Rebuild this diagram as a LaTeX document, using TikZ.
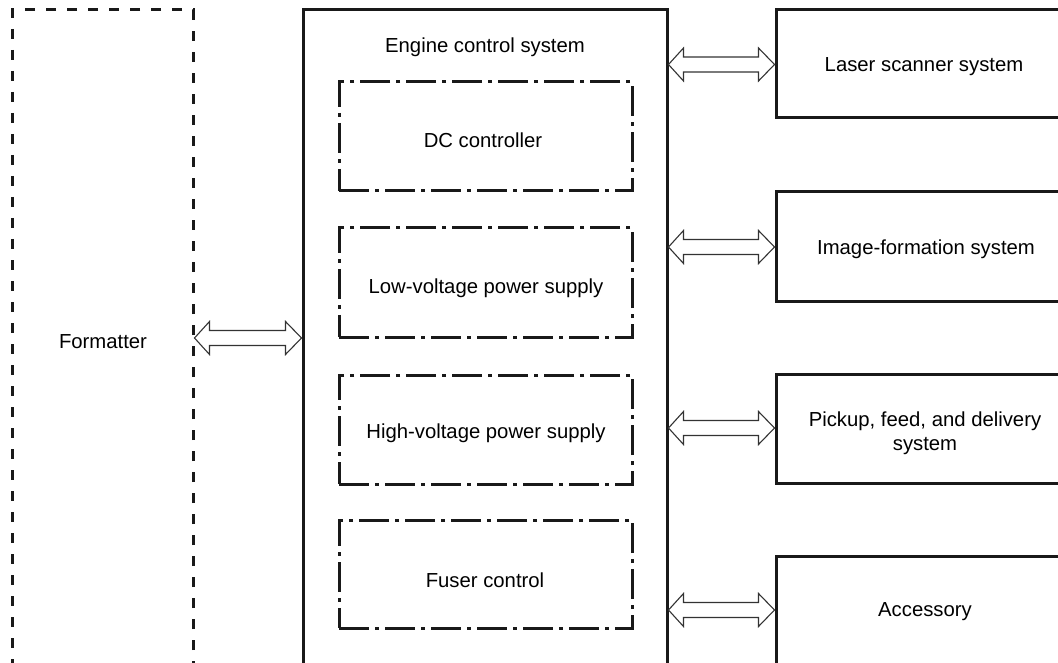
\documentclass[tikz,border=0pt]{standalone}
\usepackage{fontspec}
\setmainfont{Liberation Sans}
\usetikzlibrary{calc}
\tikzset{
  boxa/.style={draw=black!90, line width=3pt, rectangle, inner sep=0pt},
  fmtbox/.style={draw=black!90, line width=3pt, dash pattern=on 10pt off 11pt, rectangle, inner sep=0pt},
  subbox/.style={draw=black!90, line width=3pt, dash pattern=on 30pt off 6pt on 4pt off 6pt, rectangle, inner sep=0pt},
  lbl/.style={font=\fontsize{20.3}{23.5}\selectfont, align=center, inner sep=0pt},
  harrow/.style={draw=black!80, line width=1.1pt, fill=white, line join=miter}
}
\newcommand{\dblarrow}[2]{%
  \draw[harrow] (#1) -- ($(#1)+(15,16.5)$) -- ($(#1)+(15,7.5)$) -- ($(#2)+(-16,7.5)$) -- ($(#2)+(-16,16.5)$) -- (#2)
   -- ($(#2)+(-16,-16.5)$) -- ($(#2)+(-16,-7.5)$) -- ($(#1)+(15,-7.5)$) -- ($(#1)+(15,-16.5)$) -- cycle;}
\begin{document}
\begin{tikzpicture}[x=1pt,y=-1pt]
\clip (0,0) rectangle (1058,663);
\fill[white] (0,0) rectangle (1058,663);
% main boxes
\node[fmtbox, minimum width=181pt, minimum height=690pt] (fmt) at (102.5,355) {};
\node[boxa, minimum width=364pt, minimum height=690pt] (ecs) at (485,355) {};
% sub boxes
\node[subbox, minimum width=293pt, minimum height=109pt] (dc) at (485.5,136.5) {};
\node[subbox, minimum width=293pt, minimum height=109pt] (lv) at (485.5,282.5) {};
\node[subbox, minimum width=293pt, minimum height=109pt] (hv) at (485.5,429.5) {};
\node[subbox, minimum width=293pt, minimum height=108pt] (fu) at (485.5,574) {};
% right boxes
\node[boxa, minimum width=298pt, minimum height=108pt] (las) at (925,64) {};
\node[boxa, minimum width=298pt, minimum height=109pt] (img) at (925,246.5) {};
\node[boxa, minimum width=298pt, minimum height=109pt] (pick) at (925,428.5) {};
\node[boxa, minimum width=298pt, minimum height=144pt] (acc) at (925,628) {};
% labels
\node[lbl] (tfmt) at (103,342) {Formatter};
\node[lbl] (tecs) at (485,47) {Engine control system};
\node[lbl] (tdc) at (483,140) {DC controller};
\node[lbl] (tlv) at (486,288) {Low-voltage power supply};
\node[lbl] (thv) at (486,433) {High-voltage power supply};
\node[lbl] (tfu) at (485,580) {Fuser control};
\node[lbl] (tlas) at (924,67) {Laser scanner system};
\node[lbl] (timg) at (926,249) {Image-formation system};
\node[lbl] (tpick) at (925,433) {Pickup, feed, and delivery\\system};
\node[lbl] (tacc) at (925,612) {Accessory};
% arrows
\coordinate (y0) at (0,338);
\coordinate (y1) at (0,64.5);
\coordinate (y2) at (0,247);
\coordinate (y3) at (0,428);
\coordinate (y4) at (0,610);
\coordinate (a0) at (fmt.east |- y0);
\coordinate (b0) at (ecs.west |- y0);
\coordinate (a1) at (ecs.east |- y1);
\coordinate (b1) at (las.west |- y1);
\coordinate (a2) at (ecs.east |- y2);
\coordinate (b2) at (img.west |- y2);
\coordinate (a3) at (ecs.east |- y3);
\coordinate (b3) at (pick.west |- y3);
\coordinate (a4) at (ecs.east |- y4);
\coordinate (b4) at (acc.west |- y4);
\dblarrow{a0}{b0}
\dblarrow{a1}{b1}
\dblarrow{a2}{b2}
\dblarrow{a3}{b3}
\dblarrow{a4}{b4}
\end{tikzpicture}
\end{document}
